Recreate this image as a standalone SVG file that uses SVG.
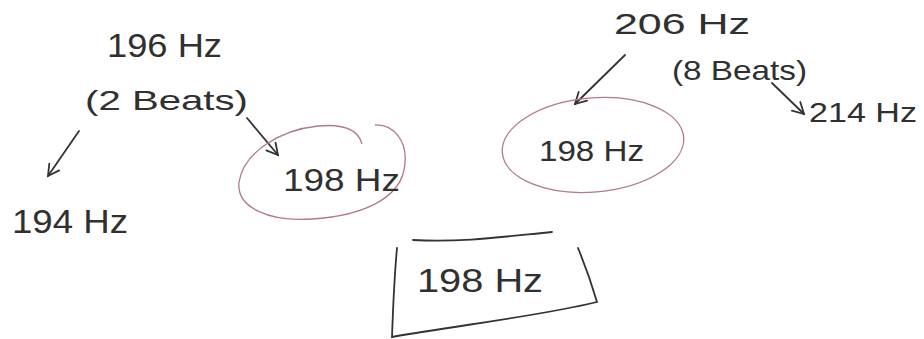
<svg xmlns="http://www.w3.org/2000/svg" width="924" height="339" viewBox="0 0 924 339">
<style>
text{font-family:"Liberation Sans","DejaVu Sans",sans-serif;fill:#303030}
.c{fill:none;stroke:#333;stroke-width:1.8;stroke-linecap:round}
.o{fill:none;stroke:#b07a86;stroke-width:1.3}
</style>
<defs>
<marker id="v" markerWidth="14" markerHeight="14" refX="12" refY="7" orient="auto" markerUnits="userSpaceOnUse">
<path d="M1,1 L12,7 L1,13" fill="none" stroke="#333" stroke-width="1.8" stroke-linecap="round"/>
</marker>
</defs>
<rect width="924" height="339" fill="#fff"/>
<g id="connectors">
<line class="c" x1="79" y1="131" x2="48" y2="176" marker-end="url(#v)"/>
<line class="c" x1="247" y1="118" x2="278" y2="155" marker-end="url(#v)"/>
<line class="c" x1="625" y1="55" x2="575" y2="104" marker-end="url(#v)"/>
<line class="c" x1="772" y1="83" x2="804" y2="114" marker-end="url(#v)"/>
</g>
<g id="n196">
<text x="107" y="57" font-size="34" textLength="115" lengthAdjust="spacingAndGlyphs">196 Hz</text>
<text x="85" y="110" font-size="28" textLength="163" lengthAdjust="spacingAndGlyphs">(2 Beats)</text>
</g>
<g id="n194">
<text x="12" y="233" font-size="34" textLength="116" lengthAdjust="spacingAndGlyphs">194 Hz</text>
</g>
<g id="n198a">
<path class="o" d="M362,144 C358,128 340,124 318,126 C280,130 244,152 239,182 C236,208 270,222 312,219 C360,216 398,200 404,170 C410,140 392,124 375,125"/>
<text x="283" y="191" font-size="32" textLength="117" lengthAdjust="spacingAndGlyphs">198 Hz</text>
</g>
<g id="n206">
<text x="614" y="34" font-size="30" textLength="136" lengthAdjust="spacingAndGlyphs">206 Hz</text>
<text x="672" y="80" font-size="28" textLength="135" lengthAdjust="spacingAndGlyphs">(8 Beats)</text>
</g>
<g id="n214">
<text x="809" y="122" font-size="28" textLength="108" lengthAdjust="spacingAndGlyphs">214 Hz</text>
</g>
<g id="n198b">
<ellipse class="o" cx="593" cy="145" rx="91" ry="47" transform="rotate(-5 593 145)"/>
<text x="539" y="161" font-size="30" textLength="105" lengthAdjust="spacingAndGlyphs">198 Hz</text>
</g>
<g id="n198c">
<path class="c" d="M413,240 C460,243 510,236 552,232 M397,248 C394,280 393,310 392,337 C460,325 540,316 597,302 C592,285 585,265 578,248"/>
<text x="417" y="292" font-size="34" textLength="126" lengthAdjust="spacingAndGlyphs">198 Hz</text>
</g>
</svg>
